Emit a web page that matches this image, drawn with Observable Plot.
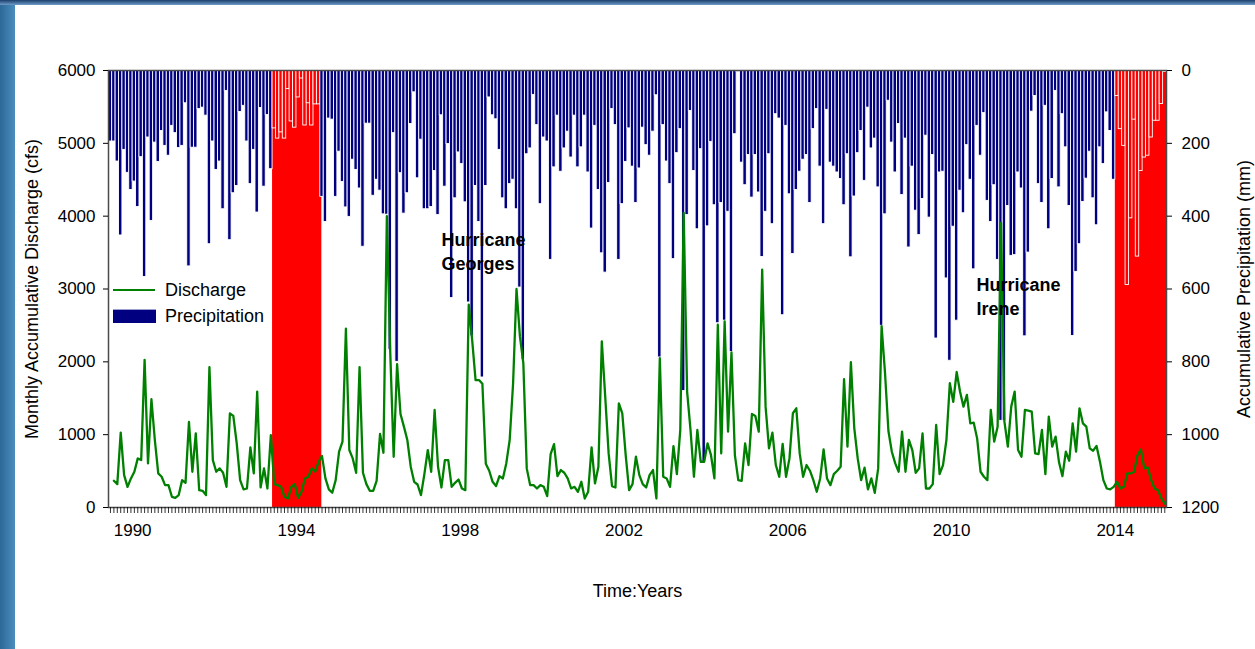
<!DOCTYPE html>
<html>
<head>
<meta charset="utf-8">
<script src="https://cdn.jsdelivr.net/npm/d3@7"></script>
<script src="https://cdn.jsdelivr.net/npm/@observablehq/plot@0.6"></script>
<style>
  html, body { margin: 0; padding: 0; background: #ffffff; }
  #wrap { position: relative; width: 1255px; height: 649px; overflow: hidden; background: #ffffff;
          font-family: "Liberation Sans", Arial, sans-serif; }
  #leftband { position: absolute; left: 0; top: 0; width: 15px; height: 649px;
              background: linear-gradient(to right, #2c6898, #4b8dbf); }
  #topband { position: absolute; left: 0; top: 0; width: 1255px; height: 5px;
             background: linear-gradient(to bottom, #1c3f6c, #6e9cc8); }
  #chart { position: absolute; left: 0; top: 0; }
  .lg { position: absolute; font-size: 18px; color: #000; line-height: 20px; white-space: nowrap; }
</style>
</head>
<body>
<div id="wrap">
  <div id="chart"></div>
  <div id="leftband"></div>
  <div id="topband"></div>
  <div style="position:absolute;left:113px;top:289px;width:42px;height:0;border-top:2.5px solid #008000;"></div>
  <div class="lg" style="left:165px;top:280px;">Discharge</div>
  <div style="position:absolute;left:113px;top:309px;width:43px;height:13px;background:#000080;border-top:1px solid #9fa0d0;"></div>
  <div class="lg" style="left:165px;top:306px;">Precipitation</div>
</div>
<script>
// ---- data (monthly, starting June 1989) ----
const startYear = 1989;
const startMonth = 6;

// Accumulative monthly precipitation (mm)
const precipitation = [
  195,195,250,453,218,281,328,305,375,238,
  567,184,413,198,251,166,207,234,152,172,
  213,207,90,538,212,212,106,102,124,477,
  195,273,250,381,56,466,337,317,114,97,
  195,312,218,390,103,319,122,271,159,187,
  170,187,51,140,157,74,22,151,90,151,
  93,93,347,416,132,135,347,223,306,376,
  402,245,273,324,484,146,146,344,300,330,
  395,396,767,172,800,282,393,337,147,60,
  296,190,381,381,375,276,397,123,319,202,
  625,351,225,257,362,637,730,317,416,843,
  317,74,123,134,218,351,381,312,300,381,
  596,795,230,214,67,150,367,184,195,520,
  266,124,278,214,168,239,124,266,211,124,
  280,434,152,328,502,555,309,106,150,520,
  367,251,159,264,364,269,157,205,234,168,
  68,788,150,250,312,518,227,161,880,397,
  111,276,436,216,1075,428,196,370,694,364,
  687,388,773,175,4,253,315,232,349,232,
  335,512,388,230,422,120,132,672,152,340,
  504,328,278,245,232,364,161,106,264,422,
  108,253,264,280,298,370,230,513,346,227,
  166,303,102,214,187,321,701,395,83,198,
  280,147,342,187,486,264,385,452,353,179,
  404,232,736,280,278,571,797,429,687,330,
  392,205,300,546,152,234,117,358,416,315,
  520,962,962,372,509,507,280,324,730,500,
  113,70,312,364,97,436,298,56,321,120,
  211,372,729,553,477,361,297,223,351,425,
  211,257,115,166,300,70,161,207,589,406,
  135,511,276,239,234,184,138,138,92,4
];

// Monthly accumulative discharge (cfs)
const discharge = [
  null,367,321,1027,445,284,399,491,674,651,
  2028,606,1486,927,468,422,307,307,147,133,
  170,376,339,1174,491,1018,238,229,170,1927,
  651,491,537,477,284,1293,1257,881,376,248,
  261,826,468,1592,275,537,261,995,321,307,
  284,147,124,284,321,133,216,399,422,537,
  491,628,706,399,248,202,376,766,904,2454,
  789,674,477,1927,477,321,229,229,367,1009,
  752,4000,2128,697,1968,1284,1110,927,560,353,
  316,170,459,789,491,1339,560,275,651,651,
  284,339,385,261,238,2784,2300,1750,1750,1700,
  600,505,353,294,431,399,605,927,1706,3000,
  2349,1982,537,307,307,261,307,284,156,734,
  871,431,514,477,399,261,284,216,353,124,
  216,826,330,560,2280,1523,743,294,275,1431,
  1293,720,238,321,697,445,321,275,445,514,
  124,2050,422,399,284,844,459,1064,4046,1592,
  1064,422,1064,628,628,881,720,399,2509,743,
  2555,1041,2128,720,376,367,881,583,1284,1257,
  1041,3266,1385,812,1027,583,422,872,422,674,
  1294,1362,743,422,583,505,376,216,399,798,
  399,307,459,505,560,1761,835,1995,1087,674,
  376,546,248,399,202,537,2490,1850,1050,766,
  605,491,1041,491,927,789,477,537,1018,261,
  261,321,1133,459,583,927,1706,1450,1860,1590,
  1385,1546,1156,1165,949,491,422,376,1339,904,
  1110,3908,1179,835,1385,1592,789,697,1339,1330,
  1316,743,734,1064,459,1248,835,972,620,430,
  766,642,1156,766,1362,1156,1110,812,780,844,
  628,376,261,248,284,353,261,284,468,468,
  491,720,798,537,550,376,261,238,124,55
];

// Shaded (drought) periods, in decimal years
const droughtStart = [1993 + 5/12, 2014.0];
const droughtEnd   = [1994.62, 2015.25];

const yearTicks = [1990, 1994, 1998, 2002, 2006, 2010, 2014];
const dischargeTicks = [0, 1000, 2000, 3000, 4000, 5000, 6000];

const hurricaneNames = ["Hurricane\nGeorges", "Hurricane\nIrene"];
const hurricaneYear = [1997.54, 2010.61];
const hurricaneLevel = [3830, 3215];

// ---- derived tables ----
const PMAX = 1200, QMAX = 6000, K = QMAX / PMAX;
const t0 = startYear + (startMonth - 1) / 12;
const periods = droughtStart.map((s, i) => ({s, e: droughtEnd[i]}));
const rows = precipitation.map((p, k) => {
  const a = t0 + k / 12;
  const c = a + 1 / 24;
  const red = periods.some(d => c >= d.s && c < d.e - 1e-6);
  return {a, b: a + 1 / 12, c, p, q: discharge[k], red};
});
const monthTicks = rows.map(r => r.c);
const notes = hurricaneNames.map((n, i) => ({n, x: hurricaneYear[i], y: hurricaneLevel[i]}));

const chart = Plot.plot({
  width: 1255,
  height: 649,
  marginLeft: 108,
  marginRight: 89,
  marginTop: 70,
  marginBottom: 142,
  style: {fontFamily: "Liberation Sans, Arial, sans-serif", fontSize: "17px", background: "transparent", color: "#000"},
  x: {domain: [1989.41, 2015.25]},
  y: {domain: [0, QMAX]},
  marks: [
    Plot.rect(periods, {x1: "s", x2: "e", y1: () => 0, y2: () => QMAX, fill: "#ff0000"}),
    Plot.rect(rows, {
      x1: "a", x2: "b",
      y1: () => QMAX, y2: d => QMAX - d.p * K,
      fill: d => d.red ? "#ff0000" : "#000080",
      stroke: "#ffffff", strokeWidth: 0.9
    }),
    Plot.line(rows, {x: "c", y: "q", stroke: "#008000", strokeWidth: 2.3, curve: "linear"}),
    Plot.text(notes, {x: "x", y: "y", text: "n", textAnchor: "start", lineAnchor: "top",
      fontWeight: "bold", fontSize: 18, lineHeight: 1.35, fill: "#000"}),
    Plot.frame({stroke: "#4a4a4a", strokeWidth: 1.5}),
    Plot.axisY({anchor: "left", ticks: dischargeTicks, tickSize: 5, tickPadding: 8,
      tickFormat: d => String(d), label: null, fontSize: 17}),
    Plot.axisY({anchor: "right", ticks: dischargeTicks, tickSize: 5, tickPadding: 10,
      tickFormat: d => String((QMAX - d) / K), label: null, fontSize: 17}),
    Plot.axisX({anchor: "bottom", ticks: monthTicks, tickSize: 6, tickFormat: () => "", label: null, strokeWidth: 0.8}),
    Plot.axisX({anchor: "bottom", ticks: yearTicks, tickSize: 0, tickPadding: 16,
      tickFormat: d => String(d), label: null, fontSize: 17}),
    Plot.text(["Monthly Accumulative Discharge (cfs)"], {frameAnchor: "left", textAnchor: "middle", dx: -76, rotate: -90, fontSize: 18}),
    Plot.text(["Accumulative Precipitation (mm)"], {frameAnchor: "right", textAnchor: "middle", dx: 78, rotate: -90, fontSize: 18}),
    Plot.text(["Time:Years"], {frameAnchor: "bottom", dy: 89, fontSize: 18})
  ]
});
document.getElementById("chart").appendChild(chart);
</script>
</body>
</html>
